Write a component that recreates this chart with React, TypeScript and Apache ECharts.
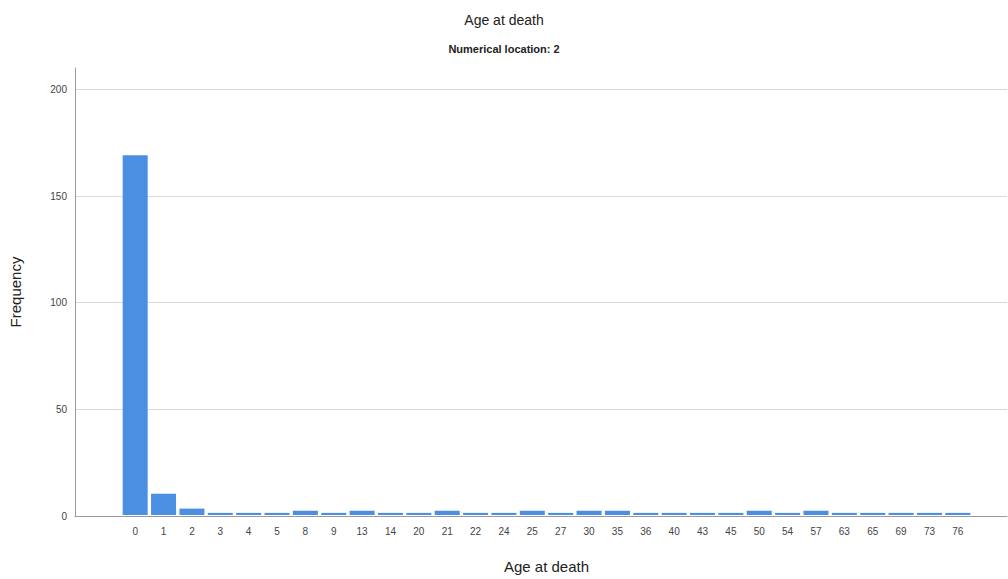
import React, { useEffect, useRef } from "react";
import * as echarts from "echarts";

const categories = ["0","1","2","3","4","5","8","9","13","14","20","21","22","24","25","27","30","35","36","40","43","45","50","54","57","63","65","69","73","76"];
const frequencies = [169,10,3,1,1,1,2,1,2,1,1,2,1,1,2,1,2,2,1,1,1,1,2,1,2,1,1,1,1,1];
const yTicks = { min: 0, max: 210, interval: 50 };

const FONT = "'Liberation Sans', Arial, sans-serif";

export default function App() {
  const ref = useRef<HTMLDivElement>(null);
  useEffect(() => {
    document.body.style.margin = "0";
    const chart = echarts.init(ref.current!, null, { renderer: "svg" });
    chart.setOption({
      animation: false,
      backgroundColor: "#ffffff",
      textStyle: { fontFamily: FONT },
      title: [
        {
          text: "Age at death",
          left: "center",
          top: 8,
          textStyle: { fontSize: 14, fontWeight: "normal", color: "#222", fontFamily: FONT },
        },
        {
          text: "Numerical location: 2",
          left: "center",
          top: 38,
          textStyle: { fontSize: 11, fontWeight: "bold", color: "#222", fontFamily: FONT },
        },
      ],
      grid: [
        { left: 75, right: 1, top: 68, bottom: 63 },
        { left: 121, right: 36, top: 68, bottom: 63 },
      ],
      xAxis: [
        {
          gridIndex: 0,
          type: "value",
          min: 0,
          max: 1,
          axisLine: { show: true, onZero: false, lineStyle: { color: "#999", width: 1 } },
          axisTick: { show: false },
          axisLabel: { show: false },
          splitLine: { show: false },
        },
        {
          gridIndex: 1,
          type: "category",
          data: categories,
          axisLine: { show: false },
          axisTick: { show: false },
          axisLabel: { fontSize: 10, color: "#444", margin: 11, interval: 0, fontFamily: FONT },
          name: "Age at death",
          nameLocation: "middle",
          nameGap: 44,
          nameTextStyle: { fontSize: 15, color: "#222", fontFamily: FONT },
        },
      ],
      yAxis: [
        {
          gridIndex: 0,
          type: "value",
          min: yTicks.min,
          max: yTicks.max,
          interval: yTicks.interval,
          axisLine: { show: true, lineStyle: { color: "#999", width: 1 } },
          axisTick: { show: false },
          axisLabel: { fontSize: 10, color: "#444", margin: 8, showMaxLabel: false, fontFamily: FONT },
          splitLine: { show: true, showMaxLine: false, lineStyle: { color: "#d9d9d9", width: 1 } },
          name: "Frequency",
          nameLocation: "middle",
          nameGap: 52,
          nameTextStyle: { fontSize: 15, color: "#222", fontFamily: FONT },
        },
        {
          gridIndex: 1,
          type: "value",
          min: yTicks.min,
          max: yTicks.max,
          interval: yTicks.interval,
          show: false,
          splitLine: { show: false },
        },
      ],
      series: [
        {
          type: "bar",
          xAxisIndex: 1,
          yAxisIndex: 1,
          data: frequencies,
          barWidth: 25,
          itemStyle: { color: "#4a8fe2" },
        },
      ],
    });
    return () => chart.dispose();
  }, []);
  return <div ref={ref} style={{ width: 1008, height: 579 }} />;
}
